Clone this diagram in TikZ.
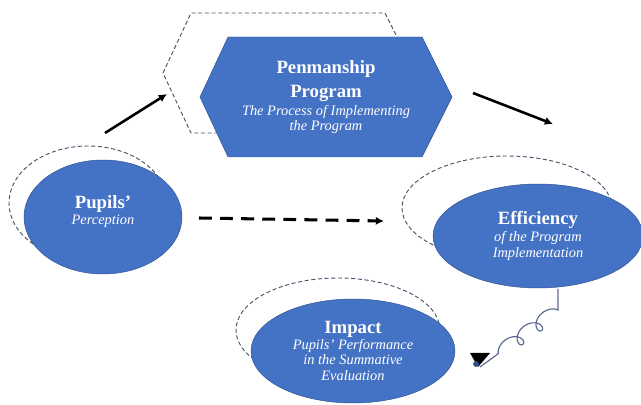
\documentclass[tikz,border=0pt]{standalone}
\usepackage{fontspec}
\setmainfont{Liberation Serif}
\usetikzlibrary{arrows.meta,positioning,shapes.geometric,decorations.pathmorphing}
\definecolor{boxblue}{HTML}{4472C4}
\definecolor{boxedge}{HTML}{2F528F}
\definecolor{ringgray}{HTML}{44546A}
\definecolor{coilblue}{HTML}{5B6B8E}
\newcommand{\headtxt}[1]{{\fontsize{16}{19}\selectfont\bfseries #1}}
\newcommand{\subtxt}[1]{{\fontsize{12.3}{13}\selectfont\itshape #1}}

\begin{document}
\begin{tikzpicture}[x=0.03cm, y=-0.03cm,
    stage/.style={ellipse, draw=boxedge, thin, fill=boxblue, text=white,
        align=center, inner sep=0pt, font=\fontsize{12}{13.5}\selectfont},
    ring/.style={ellipse, draw=ringgray, line width=0.8pt,
        dash pattern=on 3.5pt off 2.2pt, inner sep=0pt},
    arr/.style={-{Latex[length=7pt,width=7pt]}, line width=2.2pt, black}
]
    \useasboundingbox (0,0) rectangle (641,405);

    % dashed outlines behind the shapes
    \draw[ring] (163,73) -- (191,13) -- (385,13) -- (415,73) -- (385,133) -- (191,133) -- cycle;
    \node[ring, minimum width=4.74cm, minimum height=3.42cm] (pupilsring) at (88,203) {};
    \node[ring, minimum width=6.3cm, minimum height=3.12cm] (effring) at (507,208) {};
    \node[ring, minimum width=6.12cm, minimum height=3.12cm] (impring) at (338,330) {};

    % program hexagon
    \fill[boxblue, draw=boxedge, thin] (200,97) -- (228,37) -- (422,37) -- (452,97) -- (422,157) -- (228,157) -- cycle;
    \node[text=white, align=center, font=\fontsize{12}{13}\selectfont] (prog) at (326,97)
        {\headtxt{Penmanship}\\[6pt] \headtxt{Program}\\[2.3pt] \subtxt{The Process of Implementing}\\ \subtxt{the Program}};

    \node[stage, minimum width=4.74cm, minimum height=3.42cm] (pupils) at (103,217)
        {\headtxt{Pupils'}\\ \subtxt{Perception}\\[-2pt]};
    \node[stage, minimum width=6.3cm, minimum height=3.12cm] (eff) at (538,236)
        {\headtxt{Efficiency}\\[0.8pt] \subtxt{of the Program}\\ \subtxt{Implementation}};
    \node[stage, minimum width=6.12cm, minimum height=3.12cm] (imp) at (353,351)
        {\headtxt{Impact}\\ \subtxt{Pupils' Performance}\\ \subtxt{in the Summative}\\ \subtxt{Evaluation}};

    % arrows
    \coordinate (a1) at (105,133);
    \coordinate (a2) at (167,94);
    \coordinate (b1) at (473,93);
    \coordinate (b2) at (553,124);
    \coordinate (c1) at (199,218);
    \coordinate (c2) at (384,221);
    \draw[arr] (a1) -- (a2);
    \draw[arr] (b1) -- (b2);
    \draw[arr, line width=2.6pt, dash pattern=on 11pt off 7pt] (c1) -- (c2);

    % curly link from efficiency to impact
    \coordinate (k0) at (558,289);
    \coordinate (k1) at (558,310);
    \coordinate (k2) at (480,367);
    \draw[coilblue, line width=1pt] (k0) -- (k1)
        decorate[decoration={coil, mirror, amplitude=6pt, segment length=20pt, aspect=1.1}] {-- (k2)};
    \fill[black] (470,353) -- (490,353) -- (478,367) -- cycle;
    \fill[boxedge] (476,364) circle (2.5pt);
\end{tikzpicture}
\end{document}
